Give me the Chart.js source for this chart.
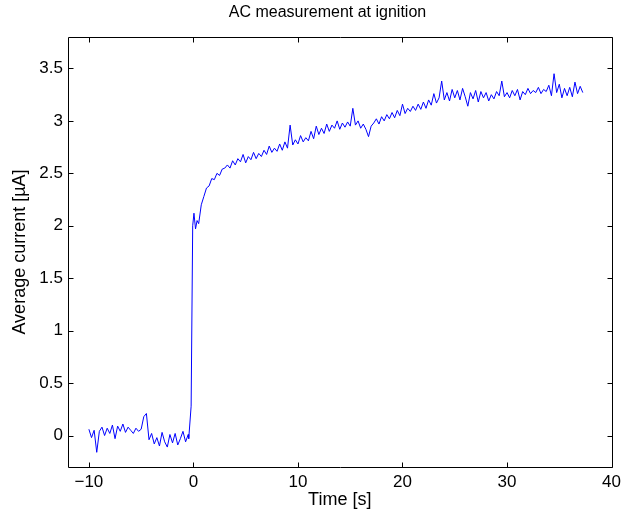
<!DOCTYPE html>
<html>
<head>
<meta charset="utf-8">
<script src="https://cdn.jsdelivr.net/npm/chart.js@4/dist/chart.umd.min.js"></script>
<style>
  html, body { margin: 0; padding: 0; background: #ffffff; }
  #c { display: block; }
</style>
</head>
<body>
<canvas id="c" width="626" height="515"></canvas>
<script>
const chartTitle = "AC measurement at ignition";
const xTitle = "Time [s]";
const yTitle = "Average current [\u00B5A]";

const timeS = [
  -10, -9.75, -9.5, -9.25, -9, -8.75, -8.5, -8.25, -8, -7.75, -7.5, -7.25, -7, -6.75, -6.5, -6.25,
  -6, -5.75, -5.5, -5.25, -5, -4.75, -4.5, -4.25, -4, -3.75, -3.5, -3.25, -3, -2.75, -2.5, -2.25,
  -2, -1.75, -1.5, -1.25, -1, -0.75, -0.5, -0.45, -0.22, -0.07, 0.05, 0.2, 0.35, 0.5, 0.75,
  1, 1.25, 1.5, 1.75, 2, 2.25, 2.5, 2.75, 3, 3.25, 3.5, 3.75, 4, 4.25, 4.5, 4.75,
  5, 5.25, 5.5, 5.75, 6, 6.25, 6.5, 6.75, 7, 7.25, 7.5, 7.75, 8, 8.25, 8.5, 8.75,
  9, 9.25, 9.5, 9.75, 10, 10.25, 10.5, 10.75, 11, 11.25, 11.5, 11.75, 12, 12.25, 12.5, 12.75,
  13, 13.25, 13.5, 13.75, 14, 14.25, 14.5, 14.75, 15, 15.25, 15.5, 15.75, 16, 16.25, 16.5, 16.75,
  17, 17.25, 17.5, 17.75, 18, 18.25, 18.5, 18.75, 19, 19.25, 19.5, 19.75, 20, 20.25, 20.5, 20.75,
  21, 21.25, 21.5, 21.75, 22, 22.25, 22.5, 22.75, 23, 23.25, 23.5, 23.75, 24, 24.25, 24.5, 24.75,
  25, 25.25, 25.5, 25.75, 26, 26.25, 26.5, 26.75, 27, 27.25, 27.5, 27.75, 28, 28.25, 28.5, 28.75,
  29, 29.25, 29.5, 29.75, 30, 30.25, 30.5, 30.75, 31, 31.25, 31.5, 31.75, 32, 32.25, 32.5, 32.75,
  33, 33.25, 33.5, 33.75, 34, 34.25, 34.5, 34.75, 35, 35.25, 35.5, 35.75, 36, 36.25, 36.5, 36.75,
  37, 37.25
];

const currentUA = [
  0.06, -0.02, 0.05, -0.16, 0.04, 0.08, 0.00, 0.07, 0.02, 0.10, -0.03, 0.09, 0.04, 0.11, 0.03, 0.08,
  0.05, 0.02, 0.07, 0.04, 0.06, 0.18, 0.21, -0.04, 0.02, -0.08, -0.02, -0.10, 0.03, -0.06, -0.11, 0.01,
  -0.07, 0.02, -0.09, -0.03, 0.04, -0.06, 0.01, -0.03, 0.28, 2.00, 2.12, 1.97, 2.05, 2.02, 2.20,
  2.28, 2.36, 2.38, 2.45, 2.44, 2.50, 2.48, 2.54, 2.55, 2.58, 2.55, 2.62, 2.58, 2.64, 2.61, 2.68,
  2.60, 2.66, 2.63, 2.70, 2.64, 2.69, 2.66, 2.72, 2.68, 2.76, 2.70, 2.74, 2.71, 2.78, 2.72, 2.80,
  2.74, 2.96, 2.77, 2.82, 2.78, 2.86, 2.80, 2.84, 2.81, 2.90, 2.83, 2.95, 2.87, 2.93, 2.88, 2.97,
  2.90, 2.96, 2.93, 3.00, 2.92, 2.98, 2.94, 2.99, 2.95, 3.12, 2.96, 3.00, 2.93, 2.97, 2.92, 2.85,
  2.95, 2.98, 3.02, 2.97, 3.04, 3.00, 3.06, 3.02, 3.08, 3.03, 3.10, 3.05, 3.16, 3.07, 3.12, 3.09,
  3.14, 3.10, 3.16, 3.11, 3.18, 3.12, 3.20, 3.15, 3.26, 3.17, 3.22, 3.38, 3.20, 3.27, 3.19, 3.30,
  3.22, 3.29, 3.20, 3.31, 3.23, 3.14, 3.27, 3.21, 3.29, 3.18, 3.28, 3.22, 3.27, 3.19, 3.25, 3.21,
  3.28, 3.24, 3.38, 3.23, 3.27, 3.22, 3.29, 3.24, 3.30, 3.20, 3.28, 3.25, 3.31, 3.26, 3.29, 3.27,
  3.32, 3.26, 3.30, 3.28, 3.34, 3.24, 3.45, 3.27, 3.35, 3.22, 3.31, 3.24, 3.32, 3.23, 3.37, 3.26,
  3.33, 3.27
];

const xTicks = [-10, 0, 10, 20, 30, 40];
const yTicks = [0, 0.5, 1, 1.5, 2, 2.5, 3, 3.5];

const points = timeS.map((t, i) => ({ x: t, y: currentUA[i] }));
const FONT = "'Liberation Sans', Arial, Helvetica, sans-serif";
const fmt = v => String(v).replace('-', '\u2212');

const framePlugin = {
  id: 'frame',
  afterDatasetsDraw(chart) {
    const { ctx, chartArea: a, scales } = chart;
    const L = Math.round(a.left) + 0.5, R = Math.round(a.right) + 0.5;
    const T = Math.round(a.top) + 0.5, B = Math.round(a.bottom) + 0.5;
    const len = 5;
    ctx.save();
    ctx.strokeStyle = '#000000';
    ctx.lineWidth = 1;
    ctx.beginPath();
    ctx.rect(L, T, R - L, B - T);
    ctx.stroke();
    ctx.beginPath();
    xTicks.forEach(v => {
      const px = Math.round(scales.x.getPixelForValue(v)) + 0.5;
      ctx.moveTo(px, B); ctx.lineTo(px, B - len);
      ctx.moveTo(px, T); ctx.lineTo(px, T + len);
    });
    yTicks.forEach(v => {
      const py = Math.round(scales.y.getPixelForValue(v)) + 0.5;
      ctx.moveTo(L, py); ctx.lineTo(L + len, py);
      ctx.moveTo(R, py); ctx.lineTo(R - len, py);
    });
    ctx.stroke();
    // title, centred as in the reference figure
    ctx.fillStyle = '#000000';
    ctx.font = "16px " + FONT;
    ctx.textAlign = 'center';
    ctx.textBaseline = 'middle';
    ctx.fillText(chartTitle, 327.5, 13);
    ctx.restore();
  }
};

new Chart(document.getElementById('c'), {
  type: 'line',
  data: {
    datasets: [{
      data: points,
      borderColor: '#0000ff',
      borderWidth: 1,
      pointRadius: 0,
      tension: 0,
      fill: false
    }]
  },
  options: {
    responsive: false,
    animation: false,
    layout: { padding: { left: 0, right: 13, top: 37, bottom: 0 } },
    plugins: {
      legend: { display: false },
      tooltip: { enabled: false },
      title: { display: false }
    },
    scales: {
      x: {
        type: 'linear',
        min: -12,
        max: 40,
        grid: { display: false, drawTicks: false },
        border: { display: false },
        afterBuildTicks: s => { s.ticks = xTicks.map(v => ({ value: v })); },
        afterFit: s => { s.height = 48; },
        ticks: {
          color: '#000000',
          padding: 5,
          maxRotation: 0,
          font: { family: FONT, size: 17 },
          callback: v => fmt(v)
        },
        title: {
          display: true,
          text: xTitle,
          color: '#000000',
          font: { family: FONT, size: 18 },
          padding: { top: 0, bottom: 4 }
        }
      },
      y: {
        type: 'linear',
        min: -0.3,
        max: 3.8,
        grid: { display: false, drawTicks: false },
        border: { display: false },
        afterBuildTicks: s => { s.ticks = yTicks.map(v => ({ value: v })); },
        afterFit: s => { s.width = 68; },
        ticks: {
          color: '#000000',
          padding: 5,
          font: { family: FONT, size: 17 },
          callback: v => fmt(v)
        },
        title: {
          display: true,
          text: yTitle,
          color: '#000000',
          font: { family: FONT, size: 18 },
          padding: { top: 9, bottom: 0 }
        }
      }
    }
  },
  plugins: [framePlugin]
});
</script>
</body>
</html>
